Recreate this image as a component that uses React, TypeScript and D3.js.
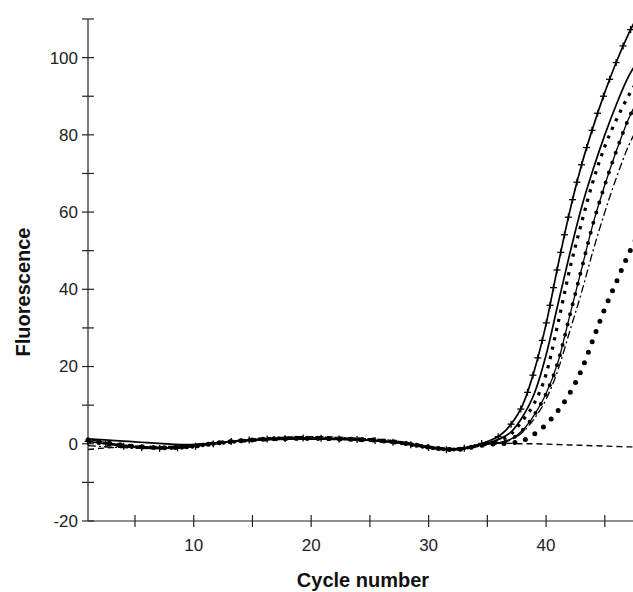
import React, { useEffect, useRef } from 'react'
import * as d3 from 'd3'

const W = 633, H = 592

// cycles 1..48
const cycles = d3.range(1, 49)

// fluorescence per cycle, one array per run
const crossRun = [0.6,0.2,-0.2,-0.6,-0.9,-1.1,-1.2,-1.1,-1.0,-0.7,-0.3,0.1,0.5,0.8,1.0,1.2,1.3,1.4,1.5,1.5,1.4,1.3,1.2,1.1,0.9,0.7,0.4,0.0,-0.5,-1.0,-1.4,-1.6,-1.2,-0.4,0.6,
  2,5,10,19,31,46,60,72,82,91,99,106,112]
const solidRun = [1.3,1.1,0.9,0.7,0.5,0.3,0.1,-0.1,-0.2,-0.2,0.0,0.3,0.5,0.7,0.9,1.0,1.1,1.2,1.2,1.2,1.2,1.1,1.1,1.0,0.9,0.7,0.4,0.1,-0.3,-0.7,-1.1,-1.3,-1.1,-0.6,0.2,
  1.2,3,7,13,23,36,49,61,71,80,88,95,100]
const squareRun = [0.5,0.1,-0.3,-0.6,-0.8,-1.0,-1.0,-1.0,-0.8,-0.5,-0.1,0.3,0.6,0.9,1.1,1.3,1.4,1.5,1.6,1.6,1.5,1.4,1.3,1.2,1.0,0.8,0.5,0.1,-0.4,-0.9,-1.3,-1.4,-1.2,-0.6,0.1,
  0.8,2.5,6,10.5,18,31,45,57,68,77,84,90,95]
const dotLineRun = [1.1,0.6,0.1,-0.3,-0.7,-0.9,-1.1,-1.1,-1.0,-0.7,-0.3,0.1,0.4,0.7,0.9,1.1,1.2,1.3,1.3,1.3,1.3,1.2,1.1,1.0,0.9,0.7,0.4,0.0,-0.5,-1.0,-1.4,-1.5,-1.2,-0.6,0.0,
  0.3,1.2,3.5,7.5,13,21,33,45,57,67,76,84,90]
const dashDotRun = [-0.5,-0.7,-0.9,-1.0,-1.1,-1.1,-1.0,-0.9,-0.7,-0.4,-0.1,0.3,0.6,0.9,1.1,1.3,1.4,1.5,1.5,1.5,1.4,1.3,1.2,1.1,1.0,0.8,0.5,0.1,-0.4,-0.8,-1.2,-1.4,-1.1,-0.5,0.0,
  0.2,1,3,6.5,11.5,19,29,39,50,60,69,77,83]
const bigDotRun = [1.0,0.5,0.0,-0.4,-0.7,-0.9,-1.0,-1.0,-0.9,-0.6,-0.2,0.2,0.5,0.8,1.0,1.2,1.3,1.4,1.4,1.4,1.4,1.3,1.2,1.1,1.0,0.8,0.5,0.1,-0.4,-0.9,-1.3,-1.5,-1.3,-0.7,-0.2,
  0,0.2,0.8,2.5,5,8.5,13,19,27,35,42,49,55]
const dashedRun = [-1.5,-1.2,-1.0,-0.9,-0.9,-0.9,-0.8,-0.7,-0.5,-0.2,0.1,0.4,0.7,1.0,1.2,1.4,1.6,1.7,1.8,1.8,1.8,1.7,1.6,1.5,1.3,1.1,0.8,0.4,-0.1,-0.6,-1.0,-1.2,-1.0,-0.5,0.0,
  0.1,0.1,0.0,0.0,-0.1,-0.2,-0.3,-0.4,-0.5,-0.6,-0.7,-0.8,-0.8]

const yTicks = d3.range(-20, 111, 10)
const yLabels = [-20, 0, 20, 40, 60, 80, 100]
const xTicks = [5, 10, 15, 20, 25, 30, 35, 40, 45]
const xLabels = [10, 20, 30, 40]

const App = () => {
    const ref = useRef<SVGSVGElement>(null)

    useEffect(() => {
        const svg = d3.select(ref.current)
        svg.selectAll('*').remove()

        const x = d3.scaleLinear().domain([1, 47.4]).range([88, 633])
        const y = d3.scaleLinear().domain([-20, 110]).range([521, 19])
        const font = 'Liberation Sans, Arial, Helvetica, sans-serif'

        const line = d3.line<number>()
            .x((d, i) => x(cycles[i]))
            .y(d => y(d))
            .curve(d3.curveMonotoneX)

        const g = svg.append('g')

        // axes
        const x0 = x(1), yBase = y(-20)
        g.append('line').attr('x1', x0).attr('x2', x0).attr('y1', y(110)).attr('y2', yBase)
            .attr('stroke', '#222').attr('stroke-width', 1.2)
        g.append('line').attr('x1', x0).attr('x2', W).attr('y1', yBase).attr('y2', yBase)
            .attr('stroke', '#222').attr('stroke-width', 1.2)

        g.selectAll('.yt').data(yTicks).enter().append('line')
            .attr('x1', x0 - 6).attr('x2', x0 + 6)
            .attr('y1', d => y(d)).attr('y2', d => y(d))
            .attr('stroke', '#222').attr('stroke-width', 1.2)
        g.selectAll('.xt').data(xTicks).enter().append('line')
            .attr('x1', d => x(d)).attr('x2', d => x(d))
            .attr('y1', yBase - 6).attr('y2', yBase + 6)
            .attr('stroke', '#222').attr('stroke-width', 1.2)

        g.selectAll('.yl').data(yLabels).enter().append('text')
            .attr('x', x0 - 10).attr('y', d => y(d)).attr('dy', '0.35em')
            .attr('text-anchor', 'end').attr('font-family', font).attr('font-size', 17)
            .attr('fill', '#222').text(d => d)
        g.selectAll('.xl').data(xLabels).enter().append('text')
            .attr('x', d => x(d)).attr('y', yBase + 30)
            .attr('text-anchor', 'middle').attr('font-family', font).attr('font-size', 17)
            .attr('fill', '#222').text(d => d)

        g.append('text').attr('x', 363).attr('y', 587).attr('text-anchor', 'middle')
            .attr('font-family', font).attr('font-size', 20).attr('font-weight', 'bold')
            .attr('fill', '#111').text('Cycle number')
        g.append('text').attr('transform', 'translate(30,292) rotate(-90)').attr('text-anchor', 'middle')
            .attr('font-family', font).attr('font-size', 20).attr('font-weight', 'bold')
            .attr('fill', '#111').text('Fluorescence')

        const curves = g.append('g').attr('fill', 'none').attr('stroke', '#000')

        // dashed
        curves.append('path').attr('d', line(dashedRun)).attr('stroke-width', 1.4)
            .attr('stroke-dasharray', '6 4')
        // dash-dot
        curves.append('path').attr('d', line(dashDotRun)).attr('stroke-width', 1.3)
            .attr('stroke-dasharray', '8 3 2 3')
        // big dots
        curves.append('path').attr('d', line(bigDotRun)).attr('stroke-width', 5)
            .attr('stroke-linecap', 'round').attr('stroke-dasharray', '0 11')
        // line with dots
        curves.append('path').attr('d', line(dotLineRun)).attr('stroke-width', 1.3)
        curves.append('path').attr('d', line(dotLineRun)).attr('stroke-width', 4)
            .attr('stroke-linecap', 'round').attr('stroke-dasharray', '0 10.5')
        // square dots
        curves.append('path').attr('d', line(squareRun)).attr('stroke-width', 3.2)
            .attr('stroke-dasharray', '3.2 6.3')
        // solid
        curves.append('path').attr('d', line(solidRun)).attr('stroke-width', 1.7)
        // solid with crosses
        const cross = curves.append('path').attr('d', line(crossRun)).attr('stroke-width', 1.7)

        const node = cross.node() as SVGPathElement
        const len = node.getTotalLength()
        const marks = d3.range(0, len, 18).map(l => node.getPointAtLength(l))
        const mk = curves.append('g').attr('stroke-width', 1.3)
        mk.selectAll('.h').data(marks).enter().append('line')
            .attr('x1', p => p.x - 3.5).attr('x2', p => p.x + 3.5)
            .attr('y1', p => p.y).attr('y2', p => p.y)
        mk.selectAll('.v').data(marks).enter().append('line')
            .attr('x1', p => p.x).attr('x2', p => p.x)
            .attr('y1', p => p.y - 3.5).attr('y2', p => p.y + 3.5)
    }, [])

    return (
        <svg ref={ref} width={W} height={H}
            style={{ position: 'absolute', left: 0, top: 0, background: '#fff' }} />
    )
}

export default App
